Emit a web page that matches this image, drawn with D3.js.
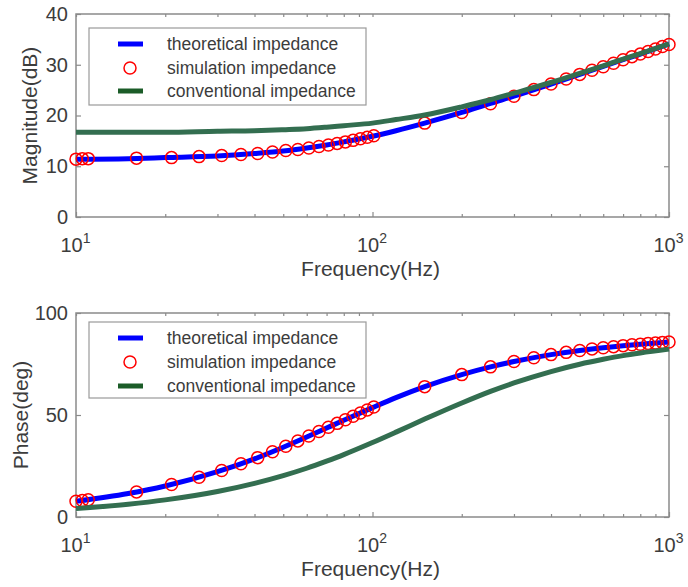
<!DOCTYPE html>
<html lang="en">
  <head>
    <meta charset="UTF-8" />
    <title>Impedance Bode Plot</title>
    <script src="https://cdn.jsdelivr.net/npm/d3@7"></script>
    <style>
      body { margin: 0; background: #fff; }
      svg { display: block; font-family: "Liberation Sans", Arial, sans-serif; }
    </style>
  </head>
  <body>
    <div id="chart"></div>
    <script>
      // simulation points (red circles)
      const simFreq = [10, 10.5, 11, 16, 21, 26, 31, 36, 41, 46, 51, 56, 61, 66, 71, 76, 81, 86, 91, 96, 101,
        150, 200, 250, 300, 350, 400, 450, 500, 550, 600, 650, 700, 750, 800, 850, 900, 950, 1000];
      const simMag = [11.4, 11.5, 11.5, 11.6, 11.7, 11.9, 12.1, 12.3, 12.5, 12.8, 13.1, 13.3, 13.6, 13.9, 14.2, 14.5, 14.8, 15.1, 15.4, 15.7, 16.0,
        18.5, 20.6, 22.3, 23.8, 25.1, 26.2, 27.2, 28.1, 28.9, 29.6, 30.3, 31.0, 31.6, 32.1, 32.6, 33.1, 33.6, 34.0];
      const simPhase = [7.7, 8.1, 8.5, 12.3, 15.9, 19.5, 22.8, 26.1, 29.1, 32.0, 34.7, 37.3, 39.7, 41.9, 44.0, 45.9, 47.7, 49.4, 51.0, 52.5, 53.9,
        63.9, 69.8, 73.6, 76.2, 78.1, 79.6, 80.7, 81.6, 82.4, 83.0, 83.5, 84.0, 84.4, 84.7, 85.1, 85.3, 85.6, 85.8];

      // curves (theoretical / conventional)
      const lineFreq = [10, 15, 20, 30, 40, 50, 60, 70, 80, 100, 120, 150, 200, 250, 300, 400, 500, 600, 700, 800, 1000];
      const theoMag = [11.4, 11.5, 11.7, 12.0, 12.5, 13.0, 13.6, 14.2, 14.8, 15.9, 17.0, 18.5, 20.6, 22.4, 23.8, 26.2, 28.1, 29.7, 31.0, 32.1, 34.1];
      const convMag = [16.7, 16.7, 16.7, 16.9, 17.0, 17.2, 17.4, 17.7, 18.0, 18.5, 19.2, 20.1, 21.7, 23.1, 24.4, 26.5, 28.3, 29.8, 31.1, 32.2, 34.1];
      const theoPhase = [7.7, 11.5, 15.2, 22.2, 28.5, 34.2, 39.2, 43.6, 47.4, 53.6, 58.5, 63.9, 69.8, 73.6, 76.2, 79.6, 81.6, 83.0, 84.0, 84.7, 85.8];
      const convPhase = [4.2, 6.3, 8.4, 12.5, 16.5, 20.3, 23.9, 27.4, 30.6, 36.5, 41.6, 48.0, 55.9, 61.6, 65.7, 71.3, 74.9, 77.3, 79.1, 80.4, 82.3];

      const legendLabels = ["theoretical impedance", "simulation impedance", "conventional impedance"];
      const xMajor = [10, 100, 1000];
      const xMinor = [20, 30, 40, 50, 60, 70, 80, 90, 200, 300, 400, 500, 600, 700, 800, 900];
      const magTicks = [0, 10, 20, 30, 40];
      const phaseTicks = [0, 50, 100];

      const blue = "#0000ff";
      const red = "#ff0000";
      const green = "#336e50";
      const greenLegend = "#1b5c28";
      const axisGrey = "#8a8a8a";
      const textCol = "#3c3c3c";
      const tickFont = 20;
      const labelFont = 21;
      const legendFont = 17.5;

      const svg = d3.select("#chart").append("svg")
        .attr("width", 688).attr("height", 587);

      const left = 76, right = 669;
      const x = d3.scaleLog().domain([10, 1000]).range([left, right]);

      function drawPanel(p) {
        const y = d3.scaleLinear().domain(p.domain).range([p.bottom, p.top]);
        const g = svg.append("g");

        // minor x ticks bottom & top
        g.append("g").attr("transform", "translate(0," + p.bottom + ")")
          .call(d3.axisBottom(x).tickValues(xMinor).tickSize(-3).tickFormat(""))
          .attr("color", axisGrey);
        g.append("g").attr("transform", "translate(0," + p.top + ")")
          .call(d3.axisTop(x).tickValues(xMinor.concat(xMajor)).tickSize(-3).tickFormat(""))
          .attr("color", axisGrey);

        // major x ticks with 10^n labels
        const xa = g.append("g").attr("transform", "translate(0," + p.bottom + ")")
          .call(d3.axisBottom(x).tickValues(xMajor).tickSize(-5).tickPadding(21).tickFormat(""))
          .attr("color", axisGrey);
        xa.selectAll(".tick text").each(function (d) {
          const t = d3.select(this).attr("fill", textCol).attr("font-size", tickFont)
            .attr("font-family", "Liberation Sans, Arial, sans-serif")
            .attr("text-anchor", "middle").attr("dx", -1);
          t.append("tspan").text("10");
          t.append("tspan").attr("dy", -9).attr("font-size", 14).text(Math.round(Math.log10(d)));
        });

        // y axes
        const ya = g.append("g").attr("transform", "translate(" + left + ",0)")
          .call(d3.axisLeft(y).tickValues(p.ticks).tickSize(-5).tickPadding(8))
          .attr("color", axisGrey);
        ya.selectAll(".tick text").attr("fill", textCol).attr("font-size", tickFont)
          .attr("font-family", "Liberation Sans, Arial, sans-serif");
        g.append("g").attr("transform", "translate(" + right + ",0)")
          .call(d3.axisRight(y).tickValues(p.ticks).tickSize(-5).tickFormat(""))
          .attr("color", axisGrey);

        g.selectAll(".domain").remove();
        g.selectAll(".tick line").attr("stroke-width", 1.2);

        // axes box
        g.append("rect")
          .attr("x", left).attr("y", p.top)
          .attr("width", right - left).attr("height", p.bottom - p.top)
          .attr("fill", "none").attr("stroke", axisGrey).attr("stroke-width", 1.5);

        // data
        const line = d3.line()
          .x((d, i) => x(lineFreq[i]))
          .y((d) => y(d))
          .curve(d3.curveMonotoneX);

        g.append("path").datum(p.theo).attr("d", line)
          .attr("fill", "none").attr("stroke", blue).attr("stroke-width", 5);

        g.selectAll(".sim").data(p.sim).join("circle")
          .attr("class", "sim")
          .attr("cx", (d, i) => x(simFreq[i]))
          .attr("cy", (d) => y(d))
          .attr("r", 6)
          .attr("fill", "none").attr("stroke", red).attr("stroke-width", 1.5);

        g.append("path").datum(p.conv).attr("d", line)
          .attr("fill", "none").attr("stroke", green).attr("stroke-width", 5);

        // axis labels
        svg.append("text")
          .attr("x", (left + right) / 2 - 2).attr("y", p.bottom + 59)
          .attr("text-anchor", "middle").attr("font-size", labelFont).attr("fill", textCol)
          .text("Frequency(Hz)");
        svg.append("text")
          .attr("transform", "translate(" + p.ylabelX + "," + (p.top + p.bottom) / 2 + ") rotate(-90)")
          .attr("dy", "0.35em")
          .attr("text-anchor", "middle").attr("font-size", labelFont).attr("fill", textCol)
          .text(p.ylabel);

        // legend
        const lg = svg.append("g");
        lg.append("rect")
          .attr("x", 89).attr("y", p.legTop)
          .attr("width", 277).attr("height", p.legH)
          .attr("fill", "#fff").attr("stroke", "#9a9a9a").attr("stroke-width", 1.2);
        legendLabels.forEach((lab, i) => {
          const cy = p.legRows[i];
          if (i === 1) {
            lg.append("circle").attr("cx", 130).attr("cy", cy).attr("r", 6)
              .attr("fill", "none").attr("stroke", red).attr("stroke-width", 1.5);
          } else {
            lg.append("line").attr("x1", 118).attr("x2", 143).attr("y1", cy).attr("y2", cy)
              .attr("stroke", i === 0 ? blue : greenLegend).attr("stroke-width", 5);
          }
          lg.append("text").attr("x", 167).attr("y", cy).attr("dy", "0.35em")
            .attr("font-size", legendFont).attr("fill", textCol).text(lab);
        });
      }

      drawPanel({
        top: 14, bottom: 217, domain: [0, 40], ticks: magTicks,
        theo: theoMag, conv: convMag, sim: simMag,
        ylabel: "Magnitude(dB)", ylabelX: 30,
        legTop: 28, legH: 77, legRows: [44, 68, 91]
      });

      drawPanel({
        top: 313, bottom: 517, domain: [0, 100], ticks: phaseTicks,
        theo: theoPhase, conv: convPhase, sim: simPhase,
        ylabel: "Phase(deg)", ylabelX: 21,
        legTop: 322, legH: 76, legRows: [338, 362, 386]
      });
    </script>
  </body>
</html>
